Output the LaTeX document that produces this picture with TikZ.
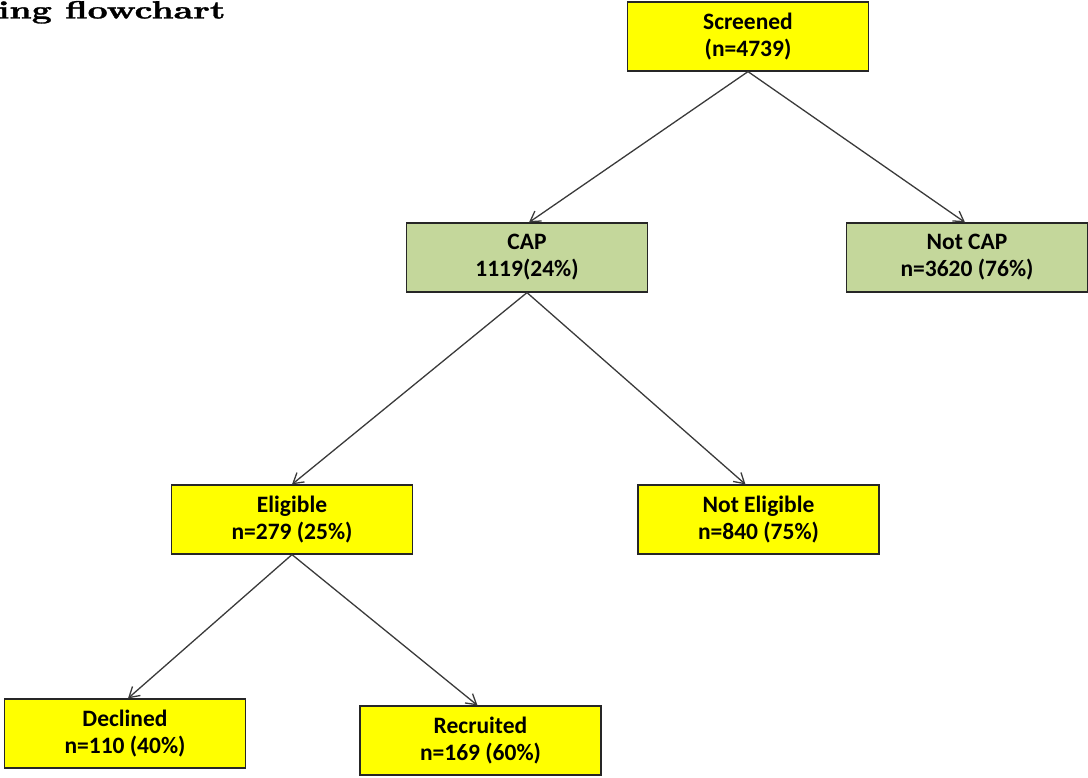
\documentclass[tikz,border=0pt]{standalone}
\usepackage{fontspec}
\usepackage{graphicx}
\newfontfamily\boxfont{Carlito}
\newfontfamily\titlefont[FakeBold=1.2]{lmroman10-bold.otf}
\usetikzlibrary{arrows.meta,calc}
\definecolor{boxyellow}{HTML}{FFFF00}
\definecolor{boxgreen}{HTML}{C4D79B}
\definecolor{linegrey}{HTML}{3A3A3A}
\tikzset{
  flowbox/.style={draw=black!85, line width=1.2pt, minimum width=241pt, minimum height=69pt,
    inner sep=0pt, align=center, font=\boxfont\bfseries\fontsize{23.5}{27}\selectfont},
  ybox/.style={flowbox, fill=boxyellow},
  gbox/.style={flowbox, fill=boxgreen},
  conn/.style={draw=linegrey, line width=1.3pt, -{Straight Barb[length=10pt,width=12pt,line width=1.3pt]}}
}
\begin{document}
\begin{tikzpicture}[x=1pt,y=-1pt]
\useasboundingbox (0,0) rectangle (1088,778);
\node[anchor=base west, inner sep=0pt, font=\titlefont\fontsize{25}{28}\selectfont] (title) at (-2,18.5) {\scalebox{1.4}[1]{ing flowchart}};
\node[ybox] (scr) at (748,36.5) {Screened\\(n=4739)};
\node[gbox] (cap) at (527,257.5) {CAP\\1119(24\%)};
\node[gbox] (ncap) at (967,257.5) {Not CAP\\n=3620 (76\%)};
\node[ybox] (elig) at (292,519.5) {Eligible\\n=279 (25\%)};
\node[ybox] (nelig) at (758.5,519.5) {Not Eligible\\n=840 (75\%)};
\node[ybox] (decl) at (125,733.5) {Declined\\n=110 (40\%)};
\node[ybox] (recr) at (480.5,740.5) {Recruited\\n=169 (60\%)};
\draw[conn] (scr.south) -- ($(cap.north)+(2,0)$);
\draw[conn] (scr.south) -- ($(ncap.north)+(-2,0)$);
\draw[conn] (cap.south) -- (elig.north);
\draw[conn] (cap.south) -- ($(nelig.north)+(-13,0)$);
\draw[conn] (elig.south) -- ($(decl.north)+(3,0)$);
\draw[conn] (elig.south) -- ($(recr.north)+(-3,0)$);
\end{tikzpicture}
\end{document}
